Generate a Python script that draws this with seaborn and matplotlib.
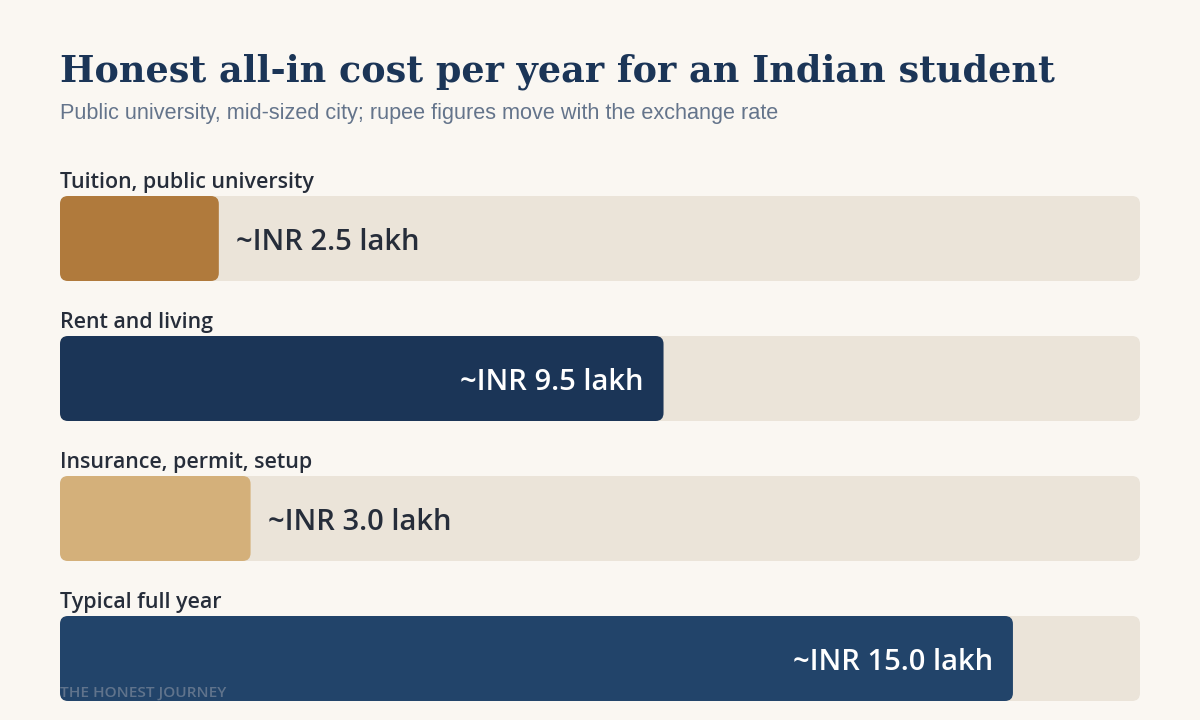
import matplotlib
matplotlib.use("Agg")
import matplotlib.pyplot as plt
import seaborn as sns
import pandas as pd
from matplotlib.patches import FancyBboxPatch

# ---- data ----
categories = ["Tuition, public university", "Rent and living",
              "Insurance, permit, setup", "Typical full year"]
values_lakh = [2.5, 9.5, 3.0, 15.0]
value_labels = ["~INR 2.5 lakh", "~INR 9.5 lakh", "~INR 3.0 lakh", "~INR 15.0 lakh"]
scale_max = 17.0
bar_colors = ["#b07a3c", "#1b3557", "#d4b07a", "#22446a"]
label_inside = [False, True, False, True]

title = "Honest all-in cost per year for an Indian student"
subtitle = "Public university, mid-sized city; rupee figures move with the exchange rate"
footer = "THE HONEST JOURNEY"

BG = "#faf7f2"
TRACK = "#ebe4d9"

sns.set_theme(style="white")
plt.rcParams["font.family"] = ["Open Sans", "DejaVu Sans"]

W, H = 1200, 720
fig = plt.figure(figsize=(W / 100, H / 100), dpi=100, facecolor=BG)

# axes area in pixels: x 60..1140, y 196..701
ax_left, ax_right, ax_top, ax_bot = 60, 1140, 196, 701
ax = fig.add_axes([ax_left / W, (H - ax_bot) / H, (ax_right - ax_left) / W, (ax_bot - ax_top) / H])
ax.set_facecolor(BG)

row_px = 140.0
bar_px = 85.0
bw = bar_px / row_px
half = bw / 2
ax.set_xlim(0, scale_max)
ax.set_ylim(3 + half, -half)

df = pd.DataFrame({"category": categories, "value": values_lakh,
                   "track": [scale_max] * len(categories)})

sns.barplot(data=df, x="track", y="category", color=TRACK, width=bw,
            orient="h", ax=ax, zorder=1, saturation=1)
sns.barplot(data=df, x="value", y="category", hue="category",
            palette=dict(zip(categories, bar_colors)), width=bw, orient="h",
            ax=ax, legend=False, zorder=2, saturation=1)

# replace rectangles with rounded boxes
px_x = scale_max / (ax_right - ax_left)
px_y = 1.0 / row_px
aspect = px_y / px_x
radius = 8 * px_x
for p in list(ax.patches):
    x0, y0 = p.get_x(), p.get_y()
    w, h = p.get_width(), p.get_height()
    fc = p.get_facecolor()
    z = p.get_zorder()
    p.remove()
    if w <= 0:
        continue
    fb = FancyBboxPatch((x0, y0), w, h,
                        boxstyle=f"round,pad=0,rounding_size={radius}",
                        mutation_aspect=aspect, facecolor=fc, edgecolor="none",
                        zorder=z)
    ax.add_patch(fb)

ax.set_xlim(0, scale_max)
ax.set_ylim(3 + half, -half)
ax.axis("off")

# labels
for i, (cat, v, lab, inside) in enumerate(zip(categories, values_lakh, value_labels, label_inside)):
    ax.text(0, i - half - 8 * px_y, cat, ha="left", va="baseline",
            fontsize=15.4, fontweight="semibold", color="#262d3a", clip_on=False)
    if inside:
        ax.text(v - 20 * px_x, i + 4 * px_y, lab, ha="right", va="center",
                fontsize=21, fontweight="semibold", color="white", zorder=5)
    else:
        ax.text(v + 17 * px_x, i + 4 * px_y, lab, ha="left", va="center",
                fontsize=21, fontweight="semibold", color="#262d3a", zorder=5)

t = fig.text(60 / W, 1 - 82 / H, title, ha="left", va="baseline",
             fontsize=30, fontweight="bold", color="#1b3557",
             family=["DejaVu Serif"])
# fit title width to the reference span (60..1053 px)
renderer = fig.canvas.get_renderer()
tw = t.get_window_extent(renderer).width
t.set_fontsize(30 * 993 / tw)

fig.text(60 / W, 1 - 119 / H, subtitle, ha="left", va="baseline",
         fontsize=15.6, color="#64748b", family=["Liberation Sans"])
fig.text(60 / W, 1 - 697 / H, footer, ha="left", va="baseline",
         fontsize=11.1, fontweight="semibold", color="#8a94a3", alpha=0.6,
         zorder=10)

fig.savefig("out.png", dpi=100, facecolor=BG)
